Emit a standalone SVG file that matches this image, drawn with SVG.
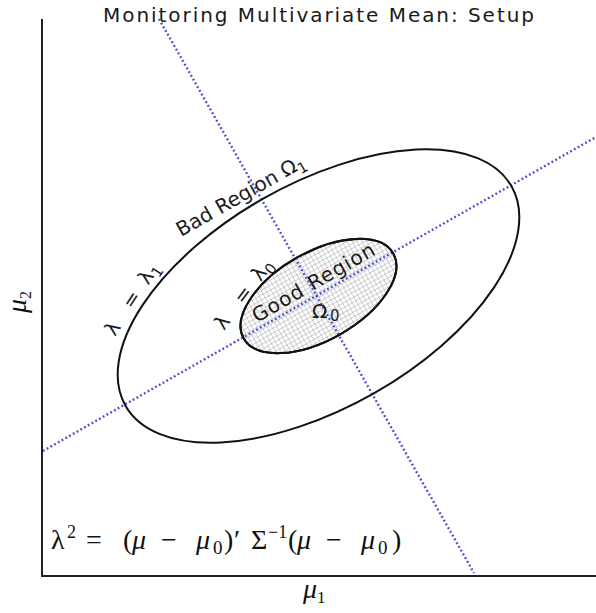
<svg xmlns="http://www.w3.org/2000/svg" width="596" height="613" viewBox="0 0 596 613">
<defs>
<pattern id="grid" patternUnits="userSpaceOnUse" width="4.3" height="4.3">
<rect width="4.3" height="4.3" fill="#ffffff"/>
<path d="M0 0.3H4.3M0.3 0V4.3" stroke="#b4b4b4" stroke-width="0.7" fill="none"/>
</pattern>
<style>
.lbl{font-family:"DejaVu Sans",sans-serif;fill:#1a1a1a;font-size:20px}
.math{font-family:"Liberation Serif","DejaVu Serif",serif;fill:#111;font-size:28px}
.dot{fill:none;stroke:#4a4ad2;stroke-width:2.4;stroke-dasharray:1.8 2.5}
.ell{stroke:#111;stroke-width:2}
.axis{stroke:#222;stroke-width:2;fill:none}
</style>
</defs>
<rect width="596" height="613" fill="#ffffff"/>
<text id="title" x="103" y="22" class="lbl" font-size="22.5" textLength="431" fill="#333">Monitoring Multivariate Mean: Setup</text>
<g id="good-region">
<ellipse class="ell" cx="318.5" cy="296" rx="86" ry="44" transform="rotate(-29.6 318.5 296)" fill="url(#grid)"/>
</g>
<g id="connectors">
<line class="dot" x1="159" y1="19" x2="474" y2="573"/>
<line class="dot" x1="43" y1="451" x2="596" y2="137"/>
</g>
<g id="bad-region">
<ellipse class="ell" cx="318.5" cy="296" rx="222" ry="112" transform="rotate(-29.6 318.5 296)" fill="none"/>
</g>
<g id="good-outline">
<ellipse class="ell" cx="318.5" cy="296" rx="86" ry="44" transform="rotate(-29.6 318.5 296)" fill="none"/>
</g>
<g id="axes">
<path class="axis" d="M42 19V576H596"/>
</g>
<g id="labels">
<text class="lbl" font-size="21" transform="translate(181 237) rotate(-29.6)">Bad Region Ω<tspan font-size="15" dy="5">1</tspan></text>
<text class="lbl" transform="translate(115 337) rotate(-57)"><tspan x="0">λ</tspan><tspan x="32">=</tspan><tspan x="61">λ</tspan><tspan x="73" dy="5" font-size="15">1</tspan></text>
<text class="lbl" transform="translate(224 331) rotate(-53)"><tspan x="0">λ</tspan><tspan x="32">=</tspan><tspan x="61">λ</tspan><tspan x="73" dy="5" font-size="15">0</tspan></text>
<text class="lbl" font-size="21" textLength="138" transform="translate(257 323) rotate(-30)">Good Region</text>
<text class="lbl" x="312" y="318" font-size="22">Ω<tspan x="330" y="321" font-size="15">0</tspan></text>
</g>
<g id="axis-labels">
<text class="math" font-size="24" transform="translate(26 313) rotate(-90)"><tspan font-style="italic">μ</tspan><tspan dy="5" font-size="16">2</tspan></text>
<text class="math" font-size="25" x="303" y="598"><tspan font-style="italic">μ</tspan><tspan dy="5" font-size="17">1</tspan></text>
</g>
<g id="formula" class="math">
<text y="549"><tspan x="51">λ</tspan><tspan x="67" dy="-11" font-size="18">2</tspan><tspan x="86" dy="11">=</tspan><tspan x="123">(</tspan><tspan x="132" font-style="italic">μ</tspan><tspan x="161">−</tspan><tspan x="196" font-style="italic">μ</tspan><tspan x="213" dy="5" font-size="19">0</tspan><tspan x="224" dy="-5">)</tspan><tspan x="234">′</tspan><tspan x="251">Σ</tspan><tspan x="268" dy="-11" font-size="18">−1</tspan><tspan x="288" dy="11">(</tspan><tspan x="297" font-style="italic">μ</tspan><tspan x="326">−</tspan><tspan x="361" font-style="italic">μ</tspan><tspan x="378" dy="5" font-size="19">0</tspan><tspan x="392" dy="-5">)</tspan></text>
</g>
</svg>
